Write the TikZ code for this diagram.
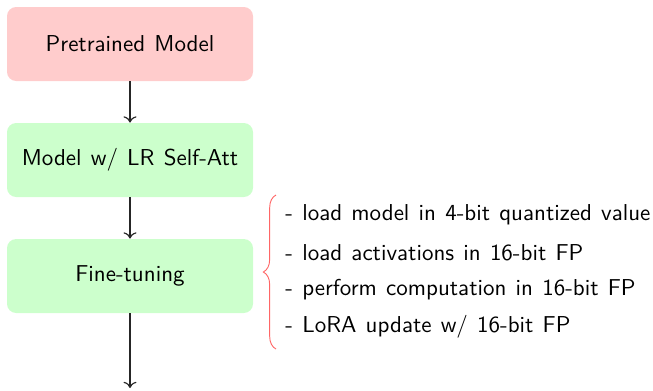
\documentclass[tikz,border=0pt]{standalone}
\usetikzlibrary{decorations.pathreplacing,arrows.meta}
\newcommand\widespacing{\spaceskip 4.0pt\relax}
\begin{document}
\begin{tikzpicture}[x=0.4348pt,y=-0.4348pt,
  font=\sffamily\widespacing,
  stage/.style={rounded corners=4pt,minimum width=246*0.4348pt,minimum height=74*0.4348pt,inner sep=0pt},
  pre/.style={stage,fill=red!20},
  tune/.style={stage,fill=green!20},
  flow/.style={->,black!85,line width=0.5pt},
  note/.style={anchor=west,inner sep=0pt}]
\useasboundingbox (0,0) rectangle (653,390);
\node[pre]  (pm) at (130,44)  {Pretrained Model};
\node[tune] (lr) at (130,160) {Model w/ LR Self-Att};
\node[tune] (ft) at (130,276) {Fine-tuning};
\coordinate (out) at (130,388);
\draw[flow] (pm) -- (lr);
\draw[flow] (lr) -- (ft);
\draw[flow] (ft) -- (out);
\coordinate (bt) at (276,195);
\coordinate (bb) at (276,349);
\draw[red!60,decorate,decoration={brace,mirror,amplitude=5.5pt}] (bt) -- (bb);
\node[note] (n1) at (285,215) {- load model in 4-bit quantized value};
\node[note] (n2) at (285,253) {- load activations in 16-bit FP};
\node[note] (n3) at (285,290) {- perform computation in 16-bit FP};
\node[note] (n4) at (285,327) {- LoRA update w/ 16-bit FP};
\end{tikzpicture}
\end{document}
